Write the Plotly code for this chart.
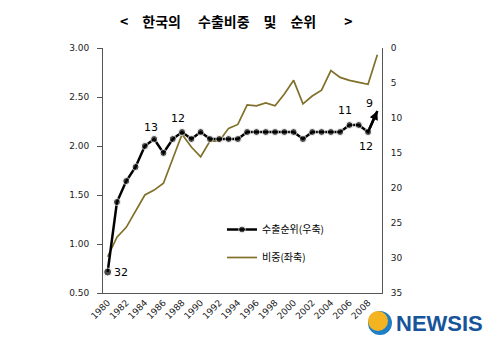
import plotly.graph_objects as go

# ---------------- data ----------------
years = list(range(1980, 2010))
share = [0.87, 1.07, 1.17, 1.34, 1.50, 1.55, 1.62, 1.87, 2.12, 1.99,
         1.89, 2.05, 2.05, 2.18, 2.22, 2.42, 2.41, 2.44, 2.41, 2.53,
         2.67, 2.43, 2.51, 2.57, 2.77, 2.70, 2.67, 2.65, 2.63, 2.93]
rank = [32, 22, 19, 17, 14, 13, 15, 13, 12, 13,
        12, 13, 13, 13, 13, 12, 12, 12, 12, 12,
        12, 13, 12, 12, 12, 12, 11, 11, 12, 9]
x_tick_years = list(range(1980, 2009, 2))
left_ticks = [0.5, 1.0, 1.5, 2.0, 2.5, 3.0]
right_ticks = [0, 5, 10, 15, 20, 25, 30, 35]
label_years = [1980, 1985, 1988, 2006, 2008, 2009]
title_text = "<\u3000한국의\u3000 수출비중\u3000및\u3000순위\u3000\u3000>"
name_rank = "수출순위(우축)"
name_share = "비중(좌축)"
logo_text = "NEWSIS"

# ---------------- layout helpers ----------------
W, H = 500, 347
L, R, T, B = 103, 118, 48, 54
PW, PH = W - L - R, H - T - B


def px2x(px):
    return (px - L) / PW


def py2y(py):
    return (H - B - py) / PH


OLIVE = "#80702a"
FONT = "DejaVu Sans"
KFONT = "Noto Sans CJK KR"

fig = go.Figure()

n = len(years)
fig.add_trace(go.Scatter(
    x=years, y=rank, yaxis="y2", name=name_rank, legendgroup="a",
    mode="lines+markers",
    line=dict(color="black", width=2.5),
    marker=dict(color="black", size=[8] + [7] * (n - 2) + [0], symbol="circle"),
))
fig.add_trace(go.Scatter(
    x=years, y=share, yaxis="y", name=name_share, legendgroup="b",
    mode="lines",
    line=dict(color=OLIVE, width=1.7),
))

# rank labels
offsets = {1980: (13, 0), 1985: (-3, 12), 1988: (-4, 14),
           2006: (-4, 15), 2008: (-2, -14), 2009: (-8, 8)}
annotations = []
for yr in label_years:
    i = years.index(yr)
    dx, dy = offsets[yr]
    annotations.append(dict(
        x=yr, y=rank[i], xref="x", yref="y2", text=str(rank[i]),
        showarrow=False, xshift=dx, yshift=dy,
        font=dict(family=FONT, size=11, color="black")))

# arrowhead on the final segment
annotations.append(dict(
    x=years[-1], y=rank[-1], ax=years[-2], ay=rank[-2],
    xref="x", yref="y2", axref="x", ayref="y2", text="",
    showarrow=True, arrowhead=2, arrowsize=0.7, arrowwidth=2.5,
    arrowcolor="black", standoff=0, startstandoff=0))

# title
annotations.append(dict(
    x=px2x(236), y=py2y(21), xref="paper", yref="paper",
    text="<b>" + title_text + "</b>", showarrow=False,
    xanchor="center", yanchor="middle",
    font=dict(family=KFONT, size=14, color="black")))

# logo text
annotations.append(dict(
    x=px2x(394), y=py2y(323), xref="paper", yref="paper",
    text="<b>" + logo_text + "</b>", showarrow=False,
    xanchor="left", yanchor="middle",
    font=dict(family="Liberation Sans", size=22, color="#17549a")))

shapes = [
    dict(type="circle", xref="paper", yref="paper",
         x0=px2x(368), x1=px2x(392), y0=py2y(335), y1=py2y(311),
         fillcolor="#1e7fc8", line=dict(width=0), layer="above"),
    dict(type="circle", xref="paper", yref="paper",
         x0=px2x(368), x1=px2x(388), y0=py2y(331), y1=py2y(311),
         fillcolor="#f4b321", line=dict(width=0), layer="above"),
]

fig.update_layout(
    width=W, height=H,
    margin=dict(l=L, r=R, t=T, b=B, pad=0),
    paper_bgcolor="white", plot_bgcolor="white",
    showlegend=True,
    legend=dict(x=px2x(222), y=py2y(215), xanchor="left", yanchor="top",
                bgcolor="rgba(0,0,0,0)", tracegroupgap=9,
                traceorder="grouped",
                font=dict(family=KFONT, size=10, color="black")),
    xaxis=dict(range=[1979.5, 2009.5], tickvals=x_tick_years,
               ticktext=[str(v) for v in x_tick_years], tickangle=-45,
               showgrid=False, zeroline=False, showline=True,
               linecolor="#555", linewidth=1, ticks="",
               tickfont=dict(family=FONT, size=9, color="#222")),
    yaxis=dict(range=[0.5, 3.0], tickvals=left_ticks, tickformat=".2f",
               showgrid=False, zeroline=False, showline=True,
               linecolor="#555", linewidth=1, ticks="outside", ticklen=5,
               tickcolor="#555", ticklabelstandoff=6,
               tickfont=dict(family=FONT, size=9, color="#222")),
    yaxis2=dict(range=[35, 0], tickvals=right_ticks, overlaying="y",
                side="right", showgrid=False, zeroline=False, showline=True,
                linecolor="#555", linewidth=1, ticks="", ticklabelstandoff=6,
                tickfont=dict(family=FONT, size=9, color="#222")),
    annotations=annotations,
    shapes=shapes,
)

fig.write_html("out.html")
